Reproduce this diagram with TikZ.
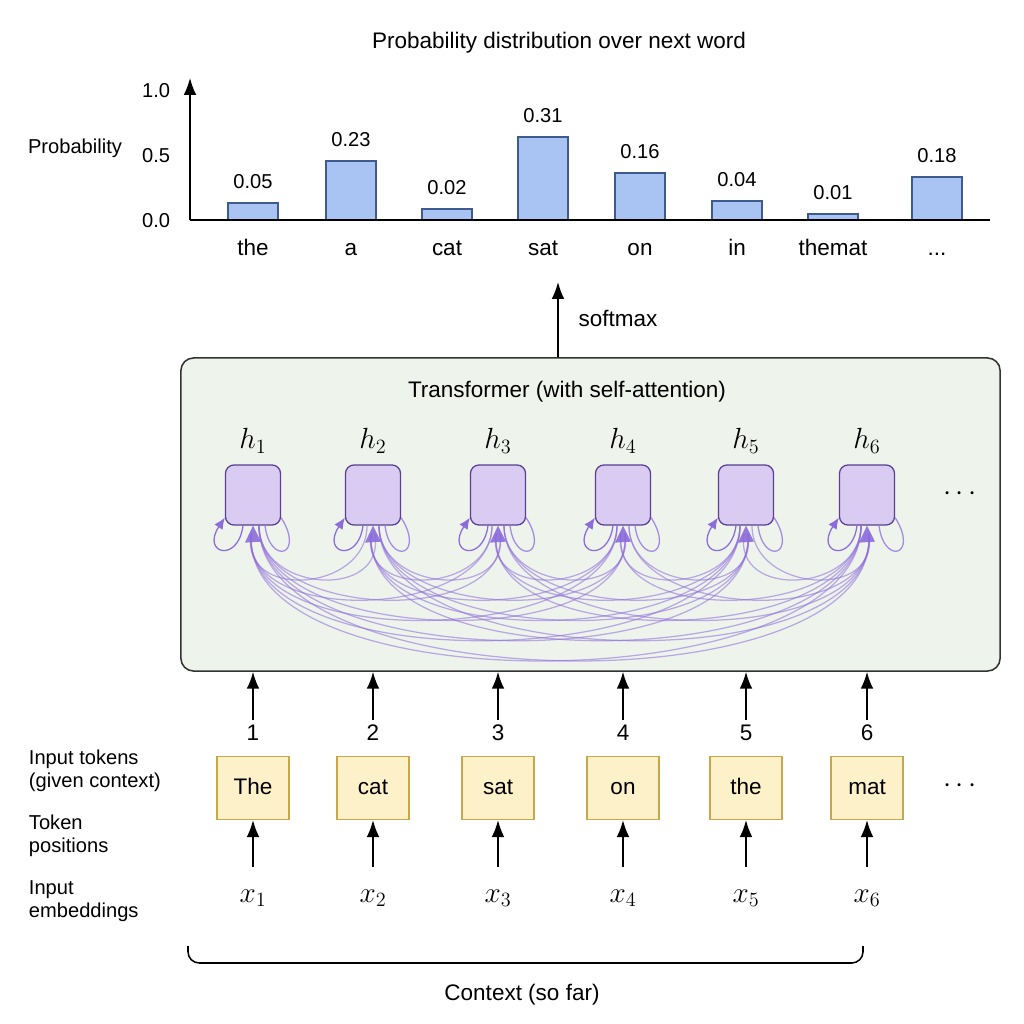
\documentclass[tikz,border=0pt]{standalone}
\usepackage{fontspec}
\setmainfont{Liberation Sans}
\usetikzlibrary{arrows.meta,positioning}
\definecolor{barfill}{HTML}{A9C4F3}
\definecolor{bardraw}{HTML}{3D5B8C}
\definecolor{trfill}{HTML}{EEF4EC}
\definecolor{trdraw}{HTML}{333333}
\definecolor{hfill}{HTML}{D9CBF2}
\definecolor{hdraw}{HTML}{5B3F91}
\definecolor{attcol}{HTML}{8C6BDB}
\definecolor{tokfill}{HTML}{FCF1C9}
\definecolor{tokdraw}{HTML}{C8A74A}

\begin{document}
\begin{tikzpicture}[x=0.025cm,y=-0.025cm,
	font=\fontsize{16}{16.5}\selectfont,
	small/.style={font=\fontsize{14.3}{16.5}\selectfont},
	word/.style={text height=1.6ex,text depth=0.4ex},
	arr/.style={-{Latex[length=12pt,width=9pt]},line width=1.1pt},
	bar/.style={draw=bardraw,fill=barfill,line width=0.9pt},
	hbox/.style={draw=hdraw,fill=hfill,rounded corners=6pt,minimum width=1.375cm,minimum height=1.5cm,line width=0.9pt},
	tokbox/.style={draw=tokdraw,fill=tokfill,minimum width=1.8cm,minimum height=1.575cm,line width=0.9pt,text height=2ex,text depth=0.2ex},
	attn/.style={draw=attcol,line width=0.9pt,draw opacity=0.55},
	attnhead/.style={draw=none,fill=attcol,fill opacity=0.9},
	selfl/.style={draw=attcol,line width=0.9pt,-{Latex[length=8pt,width=7pt]}},
	selfr/.style={draw=attcol!80,line width=0.9pt},
	lab/.style={small,align=left,anchor=west}]
	\useasboundingbox (0,0) rectangle (1024,1024);
	
	% chart
	\node (title) at (559,43) {Probability distribution over next word};
	\node[small] (ylab) at (75,148) {Probability};
	\node[small,anchor=east] (t10) at (175,91) {1.0};
	\node[small,anchor=east] (t05) at (175,156) {0.5};
	\node[small,anchor=east] (t00) at (175,221) {0.0};
	\foreach \n/\w/\v/\cx/\top in {1/the/0.05/253/203,2/a/0.23/351/161,3/cat/0.02/447/209,4/sat/0.31/543/137,
		5/on/0.16/640/173,6/in/0.04/737/201,7/themat/0.01/833/214,8/.\kern0pt.\kern0pt./0.18/937/177}{
		\draw[bar] (\cx-25,220) rectangle (\cx+25,\top);
		\node[small] (val\n) at (\cx,\top-21) {\v};
		\node[word] (word\n) at (\cx,251) {\w};
	}
	\draw[arr] (190,220) -- (190,78);
	\draw[line width=1.1pt] (190,220) -- (990,220);
	
	% transformer
	\node[draw=trdraw,fill=trfill,rounded corners=9pt,minimum width=20.475cm,minimum height=7.825cm,line width=1.1pt] (tbox) at (590.5,514.5) {};
	\node (trtitle) at (567,392) {Transformer (with self-attention)};
	\coordinate (sm) at (558,282);
	\draw[arr] (sm |- tbox.north) -- (sm);
	\node (smlab) at (618,318) {softmax};
	
	\foreach \i/\cx in {1/253,2/373,3/498,4/623,5/746,6/867}{
		\node[hbox] (h\i) at (\cx,495) {};
		\node[font=\fontsize{20}{20}\selectfont] (hl\i) at (\cx,441) {$h_{\i}$};
	}
	\node[font=\huge] (hdots) at (960,494) {$\cdots$};
	
	% attention
	\foreach \i in {1,...,6}{
		\foreach \j in {1,...,6}{
			\ifnum\i=\j\else
				\pgfmathsetmacro\d{40+27*abs(\i-\j)}
				\pgfmathsetmacro\s{\i>\j ? 6 : -6}
				\draw[attn] ([shift={(\s,0)}]h\j.south) .. controls +(0,\d) and +(\s*2,\d) .. ([shift={(\s*0.3,8)}]h\i.south);
			\fi
		}
		\fill[attnhead] (h\i.south) -- ++(-8,17) -- ++(16,-1) -- cycle;
		\draw[selfl] ([shift={(-10,0)}]h\i.south) .. controls +(-5,38) and +(-24,36) .. ([shift={(0,-8)}]h\i.south west);
		\draw[selfr] ([shift={(0,-8)}]h\i.south east) .. controls +(24,38) and +(5,40) .. ([shift={(12,0)}]h\i.south);
	}
	
	% inputs
	\foreach \i/\cx/\w in {1/253/The,2/373/cat,3/498/sat,4/623/on,5/746/the,6/867/mat}{
		\node (p\i) at (\cx,733) {\i};
		\node[tokbox] (tok\i) at (\cx,788) {\w};
		\node[font=\fontsize{20}{20}\selectfont] (x\i) at (\cx,898) {$x_{\i}$};
		\draw[arr] (p\i.north) -- (p\i.north |- tbox.south);
		\draw[arr] ([shift={(0,-31)}]x\i.center) -- (tok\i.south);
	}
	\node[font=\huge] (tdots) at (960,786) {$\cdots$};
	
	\node[lab] (ltok) at (24,771) {Input tokens\\(given context)};
	\node[lab] (lpos) at (24,836) {Token\\positions};
	\node[lab] (lemb) at (24,901) {Input\\embeddings};
	
	\draw[line width=1.1pt,rounded corners=8pt] (188,946) -- (188,963) -- (863,963) -- (863,946);
	\node (ctx) at (522,995) {Context (so far)};
\end{tikzpicture}
\end{document}
